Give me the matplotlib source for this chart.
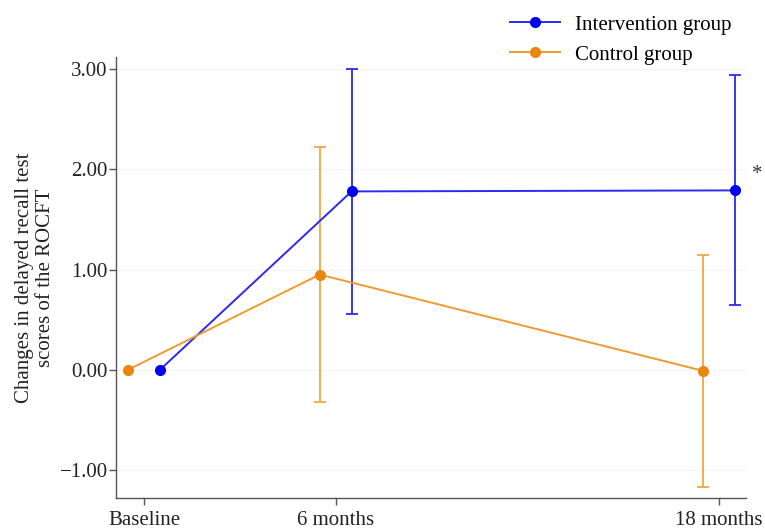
import matplotlib.pyplot as plt

plt.rcParams['font.family'] = ['Liberation Serif', 'DejaVu Serif']

# time points (months) and tick labels
months = [0, 6, 18]
tick_labels = ["Baseline", "6 months", "18 months"]

# intervention group: mean change, lower and upper bounds
int_mean = [0.00, 1.78, 1.79]
int_low = [0.00, 0.56, 0.65]
int_high = [0.00, 3.00, 2.94]

# control group
ctl_mean = [0.00, 0.95, -0.01]
ctl_low = [0.00, -0.32, -1.17]
ctl_high = [0.00, 2.22, 1.15]

dodge = 0.5

fig = plt.figure(figsize=(7.65, 5.29), dpi=100)
ax = fig.add_axes([0.1516, 0.0586, 0.8234, 0.8334])

# faint grid lines
for yv in [-1, 0, 1, 2, 3]:
    ax.axhline(yv, color='#f3f3f3', linewidth=0.8, zorder=0)

x_int = [m + dodge for m in months]
x_ctl = [m - dodge for m in months]

def err(mean, low, high):
    return [[m - l for m, l in zip(mean, low)], [h - m for m, h in zip(mean, high)]]

# error bars (skip baseline, which has no spread)
ax.errorbar(x_ctl[1:], ctl_mean[1:], yerr=err(ctl_mean[1:], ctl_low[1:], ctl_high[1:]),
            fmt='none', ecolor='#f2a544', elinewidth=1.3, capsize=4, capthick=1.3, zorder=2)
ax.errorbar(x_int[1:], int_mean[1:], yerr=err(int_mean[1:], int_low[1:], int_high[1:]),
            fmt='none', ecolor='#2a2af0', elinewidth=1.3, capsize=4, capthick=1.3, zorder=2)

ax.plot(x_int, int_mean, color='#2a2af0', linewidth=1.4, marker='o', markersize=7,
        markerfacecolor='#0000f0', markeredgecolor='#0000f0', label='Intervention group', zorder=3)
ax.plot(x_ctl, ctl_mean, color='#ef9a30', linewidth=1.4, marker='o', markersize=7,
        markerfacecolor='#e8860e', markeredgecolor='#e8860e', label='Control group', zorder=3)

ax.set_xlim(-0.88, 18.85)
ax.set_ylim(-1.28, 3.12)
ax.set_xticks(months)
ax.set_xticklabels(tick_labels, fontsize=15)
ax.set_yticks([-1, 0, 1, 2, 3])
ax.set_yticklabels(["\u22121.00", "0.00", "1.00", "2.00", "3.00"], fontsize=15)

for side in ['top', 'right']:
    ax.spines[side].set_visible(False)
for side in ['left', 'bottom']:
    ax.spines[side].set_color('#555555')
    ax.spines[side].set_linewidth(1.0)
ax.tick_params(axis='both', colors='#555555', labelcolor='#222222', length=5, width=1.0)
ax.tick_params(axis='y', pad=1)
ax.tick_params(axis='x', pad=4)

ax.set_ylabel("Changes in delayed recall test\nscores of the ROCFT", fontsize=15,
              color='#222222', labelpad=3)

# significance marker
ax.text(19.2, 1.95, "*", fontsize=15, ha='center', va='center', clip_on=False, color='#333333')

ax.legend(loc='upper left', bbox_to_anchor=(0.613, 1.114), frameon=False, fontsize=15,
          handlelength=2.4, handletextpad=0.7, labelspacing=0.5, borderaxespad=0)

fig.savefig("out.png", dpi=100)
